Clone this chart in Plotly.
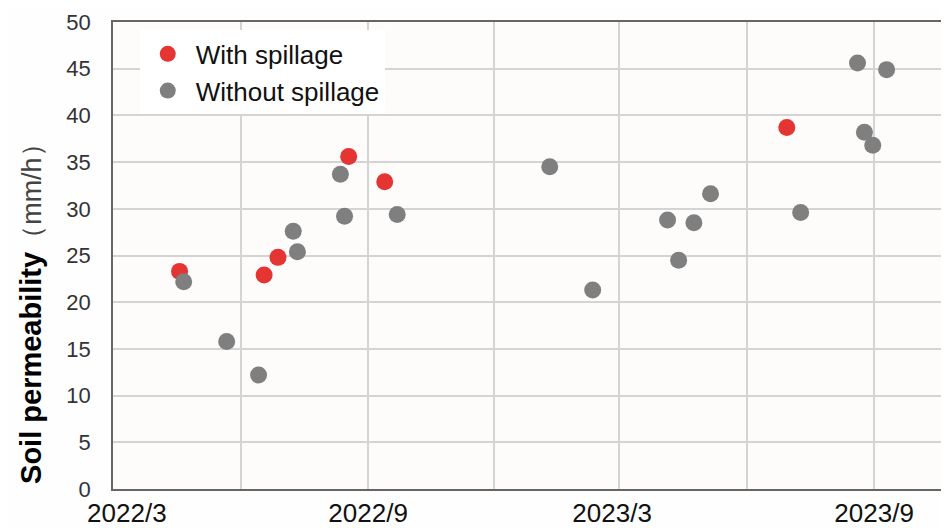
import plotly.graph_objects as go

with_dates = ["2022-04-18", "2022-06-18", "2022-06-28", "2022-08-18", "2022-09-13", "2023-06-30"]
with_vals = [23.3, 22.9, 24.8, 35.6, 32.9, 38.7]

without_dates = ["2022-04-21", "2022-05-22", "2022-06-14", "2022-07-09", "2022-07-12",
                 "2022-08-12", "2022-08-15", "2022-09-22", "2023-01-10", "2023-02-10",
                 "2023-04-05", "2023-04-13", "2023-04-24", "2023-05-06", "2023-07-10",
                 "2023-08-20", "2023-08-25", "2023-08-31", "2023-09-10"]
without_vals = [22.2, 15.8, 12.2, 27.6, 25.4, 33.7, 29.2, 29.4, 34.5, 21.3,
                28.8, 24.5, 28.5, 31.6, 29.6, 45.6, 38.2, 36.8, 44.9]

# tick label positions (labels sit slightly off the gridlines in the original)
tick_vals = ["2022-03-11", "2022-09-01", "2023-02-24", "2023-09-01"]
tick_text = ["2022/3", "2022/9", "2023/3", "2023/9"]
grid_vals = ["2022-03-01", "2022-06-01", "2022-09-01", "2022-12-01",
             "2023-03-01", "2023-06-01", "2023-09-01"]

font_fam = "Arial, Liberation Sans, sans-serif"

fig = go.Figure()
fig.add_trace(go.Scatter(x=with_dates, y=with_vals, mode="markers", name="With spillage",
                         marker=dict(color="#e53532", size=17, line=dict(width=0))))
fig.add_trace(go.Scatter(x=without_dates, y=without_vals, mode="markers", name="Without spillage",
                         marker=dict(color="#7f7f7f", size=17, line=dict(width=0))))

fig.update_layout(
    width=941, height=520,
    margin=dict(l=105, r=0, t=14, b=39, autoexpand=False),
    paper_bgcolor="#fefefe",
    plot_bgcolor="#fdfcfa",
    font=dict(family=font_fam, color="#000"),
    showlegend=True,
    legend=dict(x=0.032, y=0.982, xanchor="left", yanchor="top",
                bgcolor="#ffffff", borderwidth=0,
                font=dict(size=26, family=font_fam, color="#111"),
                itemwidth=46, tracegroupgap=0),
    xaxis=dict(type="date", range=["2022-03-01", "2023-10-25"],
               tickvals=tick_vals, ticktext=tick_text,
               tickfont=dict(size=26, family=font_fam, color="#111"),
               showgrid=False,
               minor=dict(tickvals=grid_vals, showgrid=True, gridcolor="#d4d4d4", gridwidth=1.5),
               showline=True, linecolor="#666", linewidth=1.5, mirror=True,
               ticks="", zeroline=False, automargin=False),
    yaxis=dict(range=[0, 50], dtick=5, tick0=0,
               tickfont=dict(size=22, family=font_fam, color="#333"),
               ticklabelstandoff=16,
               showgrid=True, gridcolor="#d4d4d4", gridwidth=1.5,
               showline=True, linecolor="#666", linewidth=1.5,
               ticks="", zeroline=False, automargin=False),
)

fig.add_annotation(
    xref="paper", yref="paper", x=-0.098, y=0.39,
    xanchor="center", yanchor="middle", textangle=-90, showarrow=False,
    text="<b>Soil permeability</b><span style='font-size:27px;fill:#444'>（mm/h）</span>",
    font=dict(size=29, family=font_fam, color="#000"),
)

fig.write_html("out.html")
